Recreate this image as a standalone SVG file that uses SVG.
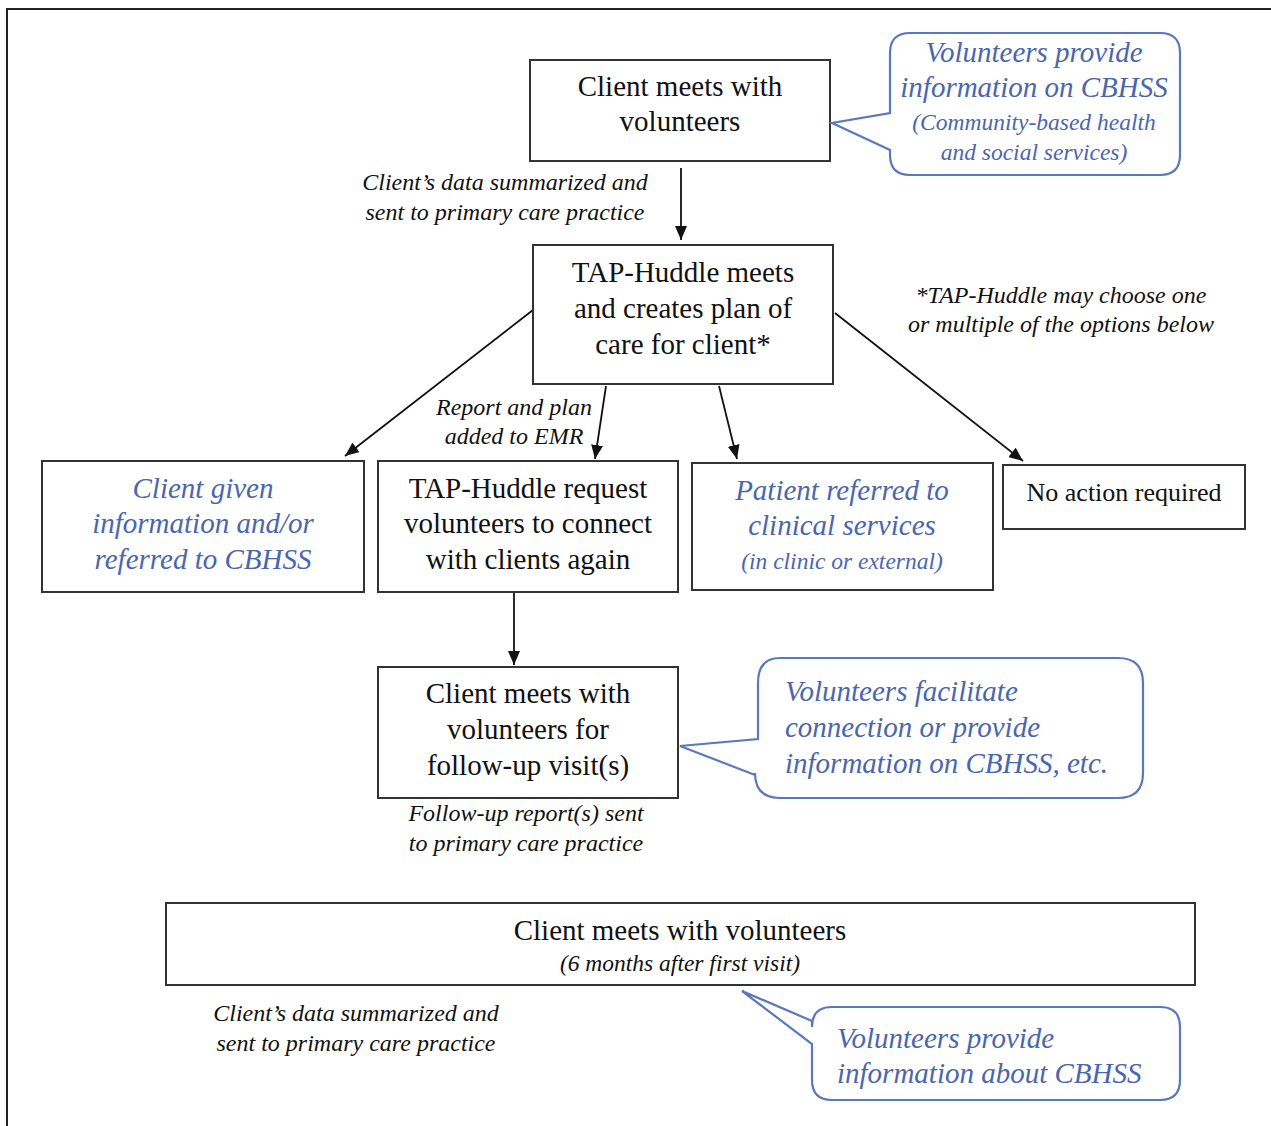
<svg xmlns="http://www.w3.org/2000/svg" width="1271" height="1126" viewBox="0 0 1271 1126" font-family="'Liberation Serif', 'DejaVu Serif', serif">
<defs>
<style>
.box{fill:#fff;stroke:#333;stroke-width:2}
.call{fill:#fff;stroke:#5b78bd;stroke-width:2.2}
.t{font-family:'Liberation Serif','DejaVu Serif',serif;fill:#111;text-anchor:middle}
.m{font-size:29px}
.n{font-size:26px}
.i{font-style:italic}
.s{font-size:24px}
.xs{font-size:23.5px}
.b{fill:#4a66ae}
.l{text-anchor:start}
.con{stroke:#111;stroke-width:1.8;fill:none;marker-end:url(#ah)}
</style>
<marker id="ah" markerUnits="userSpaceOnUse" markerWidth="14" markerHeight="12" viewBox="0 0 14 12" refX="14" refY="6" orient="auto">
<path d="M0,0 L14,6 L0,12 z" fill="#111"/>
</marker>
</defs>
<rect width="1271" height="1126" fill="#fff"/>
<path d="M7,1130 L7,9 L1275,9" fill="none" stroke="#222" stroke-width="2"/>

<g id="connectors">
<line class="con" x1="681" y1="168" x2="681" y2="240"/>
<line class="con" x1="533" y1="310" x2="345" y2="456"/>
<line class="con" x1="606" y1="386" x2="595" y2="459"/>
<line class="con" x1="719" y1="386" x2="737" y2="459"/>
<line class="con" x1="835" y1="313" x2="1023" y2="461"/>
<line class="con" x1="514" y1="593" x2="514" y2="665"/>
</g>

<g id="n1">
<rect class="box" x="530" y="60" width="300" height="101"/>
<text class="t m" x="680" y="96">Client meets with</text>
<text class="t m" x="680" y="131">volunteers</text>
</g>

<g id="c1">
<path class="call" d="M910,33 H1160 Q1180,33 1180,53 V155 Q1180,175 1160,175 H910 Q890,175 890,155 V150 L832,123 L890,113 V53 Q890,33 910,33 Z"/>
<text class="t m i b" x="1034" y="62">Volunteers provide</text>
<text class="t m i b" x="1034" y="97">information on CBHSS</text>
<text class="t xs i b" x="1034" y="130">(Community-based health</text>
<text class="t xs i b" x="1034" y="160">and social services)</text>
</g>

<g id="lbl1">
<text class="t s i" x="505" y="190">Client’s data summarized and</text>
<text class="t s i" x="505" y="220">sent to primary care practice</text>
</g>

<g id="n2">
<rect class="box" x="533" y="245" width="300" height="139"/>
<text class="t m" x="683" y="282">TAP-Huddle meets</text>
<text class="t m" x="683" y="318">and creates plan of</text>
<text class="t m" x="683" y="354">care for client*</text>
</g>

<g id="note">
<text class="t s i" x="1061" y="303">*TAP-Huddle may choose one</text>
<text class="t s i" x="1061" y="332">or multiple of the options below</text>
</g>

<g id="lbl2">
<text class="t s i" x="514" y="415">Report and plan</text>
<text class="t s i" x="514" y="444">added to EMR</text>
</g>

<g id="n3">
<rect class="box" x="42" y="461" width="322" height="131"/>
<text class="t m i b" x="203" y="498">Client given</text>
<text class="t m i b" x="203" y="533">information and/or</text>
<text class="t m i b" x="203" y="569">referred to CBHSS</text>
</g>

<g id="n4">
<rect class="box" x="378" y="461" width="300" height="131"/>
<text class="t m" x="528" y="498">TAP-Huddle request</text>
<text class="t m" x="528" y="533">volunteers to connect</text>
<text class="t m" x="528" y="569">with clients again</text>
</g>

<g id="n5">
<rect class="box" x="692" y="463" width="301" height="127"/>
<text class="t m i b" x="842" y="500">Patient referred to</text>
<text class="t m i b" x="842" y="535">clinical services</text>
<text class="t xs i b" x="842" y="569">(in clinic or external)</text>
</g>

<g id="n6">
<rect class="box" x="1003" y="465" width="242" height="64"/>
<text class="t n" x="1124" y="501">No action required</text>
</g>

<g id="n7">
<rect class="box" x="378" y="667" width="300" height="131"/>
<text class="t m" x="528" y="703">Client meets with</text>
<text class="t m" x="528" y="739">volunteers for</text>
<text class="t m" x="528" y="775">follow-up visit(s)</text>
</g>

<g id="c2">
<path class="call" d="M780,658 H1118 Q1143,658 1143,683 V773 Q1143,798 1118,798 H780 Q755,798 755,773 V775 L680,746 L758,739 V683 Q758,658 780,658 Z"/>
<text class="t m i b l" x="785" y="701">Volunteers facilitate</text>
<text class="t m i b l" x="785" y="737">connection or provide</text>
<text class="t m i b l" x="785" y="773">information on CBHSS, etc.</text>
</g>

<g id="lbl3">
<text class="t s i" x="526" y="821">Follow-up report(s) sent</text>
<text class="t s i" x="526" y="851">to primary care practice</text>
</g>

<g id="n8">
<rect class="box" x="166" y="903" width="1029" height="82"/>
<text class="t m" x="680" y="940">Client meets with volunteers</text>
<text class="t xs i" x="680" y="971">(6 months after first visit)</text>
</g>

<g id="lbl4">
<text class="t s i" x="356" y="1021">Client’s data summarized and</text>
<text class="t s i" x="356" y="1051">sent to primary care practice</text>
</g>

<g id="c3">
<path class="call" d="M832,1007 H1160 Q1180,1007 1180,1027 V1080 Q1180,1100 1160,1100 H832 Q812,1100 812,1080 V1044 L742,991 L812,1021 V1027 Q812,1007 832,1007 Z"/>
<text class="t m i b l" x="837" y="1048">Volunteers provide</text>
<text class="t m i b l" x="837" y="1083">information about CBHSS</text>
</g>
</svg>
